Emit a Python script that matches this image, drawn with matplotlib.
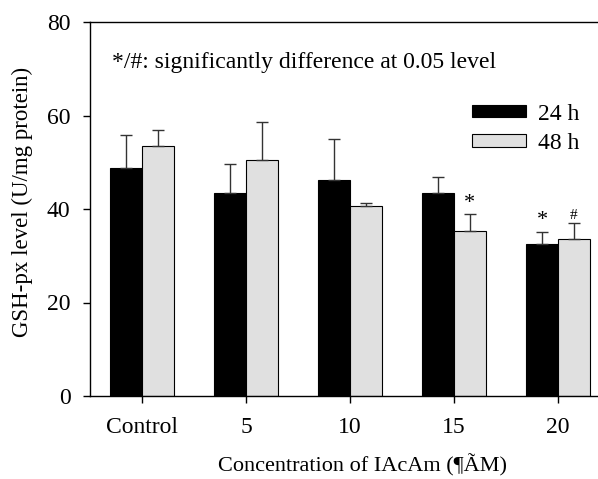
import matplotlib.pyplot as plt
import numpy as np

plt.rcParams['font.family'] = ['Liberation Serif', 'DejaVu Serif']

categories = ['Control', '5', '10', '15', '20']
h24 = [48.8, 43.5, 46.1, 43.5, 32.6]
h24_err = [7.1, 6.1, 8.8, 3.3, 2.5]
h48 = [53.4, 50.5, 40.7, 35.4, 33.6]
h48_err = [3.4, 8.2, 0.6, 3.5, 3.5]
marks24 = ['', '', '', '', '*']
marks48 = ['', '', '', '*', '#']

fig = plt.figure(figsize=(5.98, 4.79), dpi=100)
ax = fig.add_axes([90 / 598, 83 / 479, 520 / 598, 374 / 479])

x = np.arange(len(categories))
w = 0.303
err_kw = dict(ecolor='#333333', elinewidth=1, capsize=4, capthick=1)
ax.bar(x - w / 2, h24, w, color='black', edgecolor='black', linewidth=0.8,
       yerr=[np.zeros(5), h24_err], error_kw=err_kw, label='24 h')
ax.bar(x + w / 2, h48, w, color='#e0e0e0', edgecolor='black', linewidth=0.8,
       yerr=[np.zeros(5), h48_err], error_kw=err_kw, label='48 h')

for i in range(len(categories)):
    if marks24[i]:
        ax.text(x[i] - w / 2, h24[i] + h24_err[i] + 0.4, marks24[i],
                ha='center', va='bottom', fontsize=16)
    if marks48[i]:
        fs = 16 if marks48[i] == '*' else 11
        ax.text(x[i] + w / 2, h48[i] + h48_err[i] + 0.2, marks48[i],
                ha='center', va='bottom', fontsize=fs)

ax.text(0.043, 0.893, '*/#: significantly difference at 0.05 level',
        transform=ax.transAxes, fontsize=17, va='center')

ax.set_xlim(-0.5, 4.5)
ax.set_ylim(0, 80)
ax.set_yticks([0, 20, 40, 60, 80])
ax.set_xticks(x)
ax.set_xticklabels(categories)
ax.tick_params(direction='out', length=5, width=1, labelsize=17)
ax.tick_params(axis='x', pad=10)
ax.tick_params(axis='y', pad=9)
for s in ax.spines.values():
    s.set_linewidth(1)

ax.set_xlabel('Concentration of IAcAm (¶ÃM)', fontsize=16)
ax.xaxis.set_label_coords((362 - 90) / 520, -0.155)
ax.set_ylabel('GSH-px level (U/mg protein)', fontsize=16.5)
ax.yaxis.set_label_coords(-0.11, 0.52)

ax.legend(loc='upper left', bbox_to_anchor=(0.7346, 0.782), frameon=False,
          fontsize=17, borderaxespad=0, borderpad=0,
          handlelength=2.29, handleheight=0.42, handletextpad=0.5,
          labelspacing=0.36)

fig.savefig('out.png', dpi=100)
